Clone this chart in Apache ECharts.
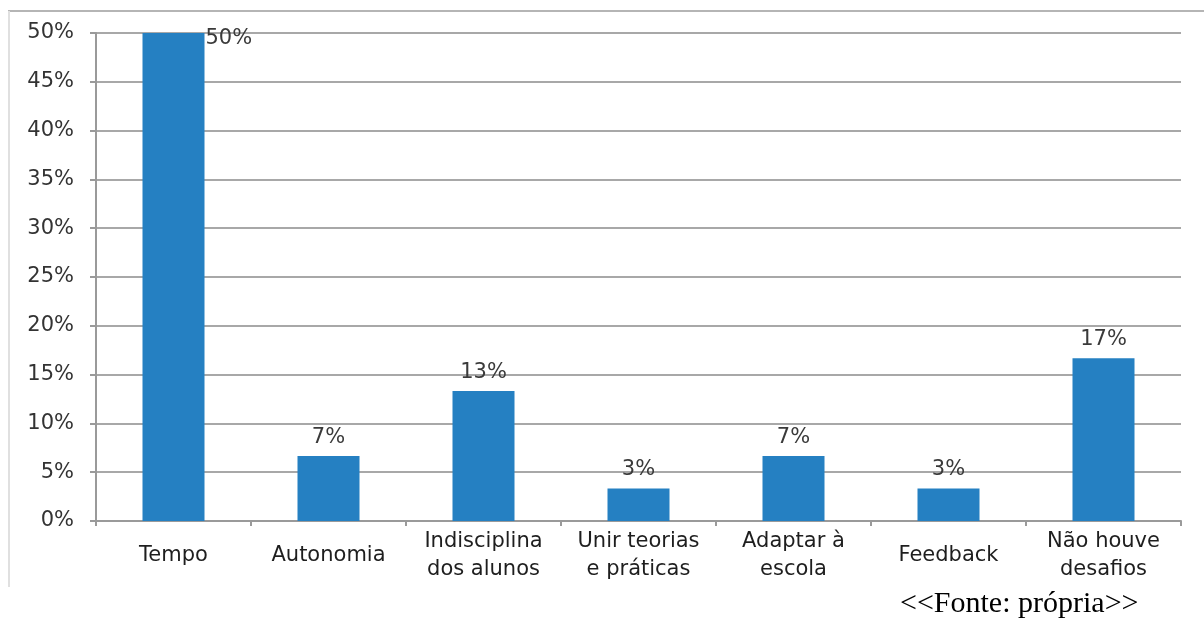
<!DOCTYPE html>
<html>
<head>
<meta charset="utf-8">
<script src="https://cdn.jsdelivr.net/npm/echarts@6/dist/echarts.min.js"></script>
<style>
html,body{margin:0;padding:0;background:#fff;}
#c{width:1204px;height:620px;}
</style>
</head>
<body>
<div id="c"></div>
<script>
const categories = ['Tempo', 'Autonomia', 'Indisciplina\ndos alunos', 'Unir teorias\ne práticas', 'Adaptar à\nescola', 'Feedback', 'Não houve\ndesafios'];
const values = [50, 6.67, 13.33, 3.33, 6.67, 3.33, 16.67];
const yTicks = [0, 5, 10, 15, 20, 25, 30, 35, 40, 45, 50];

const chart = echarts.init(document.getElementById('c'));
const seriesData = values.map((v, i) => {
  if (i === 0) {
    return {
      value: v,
      label: { position: ['100%', 0], align: 'left', verticalAlign: 'middle', offset: [1, 6] }
    };
  }
  return v;
});

chart.setOption({
  animation: false,
  backgroundColor: '#fff',
  grid: { left: 96, right: 23, top: 33, bottom: 99, containLabel: false },
  xAxis: {
    type: 'category',
    data: categories,
    axisLine: { show: true, lineStyle: { color: '#9a9a9a', width: 2 } },
    axisTick: { show: true, alignWithLabel: false, length: 5, lineStyle: { color: '#9a9a9a', width: 2 } },
    axisLabel: {
      interval: 0,
      color: '#1e1e1e',
      fontFamily: 'DejaVu Sans',
      fontSize: 21,
      lineHeight: 28,
      margin: 35,
      verticalAlign: 'middle'
    }
  },
  yAxis: {
    type: 'value',
    min: 0,
    max: 50,
    interval: 5,
    axisLine: { show: true, lineStyle: { color: '#9a9a9a', width: 2 } },
    axisTick: { show: true, length: 6, lineStyle: { color: '#9a9a9a', width: 2 } },
    splitLine: { show: true, lineStyle: { color: '#a8a8a8', width: 2 } },
    axisLabel: {
      color: '#333',
      fontFamily: 'DejaVu Sans',
      fontSize: 21,
      margin: 22,
      formatter: v => (yTicks.indexOf(v) >= 0 ? v + '%' : '')
    }
  },
  series: [{
    type: 'bar',
    data: seriesData,
    barWidth: 62,
    itemStyle: { color: '#2580c2' },
    label: {
      show: true,
      position: 'top',
      distance: 8,
      color: '#3a3a3a',
      fontFamily: 'DejaVu Sans',
      fontSize: 21,
      formatter: p => Math.round(p.value) + '%'
    }
  }],
  graphic: [
    { type: 'line', shape: { x1: 8, y1: 11, x2: 1204, y2: 11 }, style: { stroke: '#b5b5b5', lineWidth: 2 } },
    { type: 'line', shape: { x1: 9, y1: 11, x2: 9, y2: 587 }, style: { stroke: '#e0e0e0', lineWidth: 2 } },
    { type: 'text', left: 900, top: 589, style: { text: '<<Fonte: própria>>', font: '30px "Liberation Serif"', fill: '#000' } }
  ]
});
</script>
</body>
</html>
